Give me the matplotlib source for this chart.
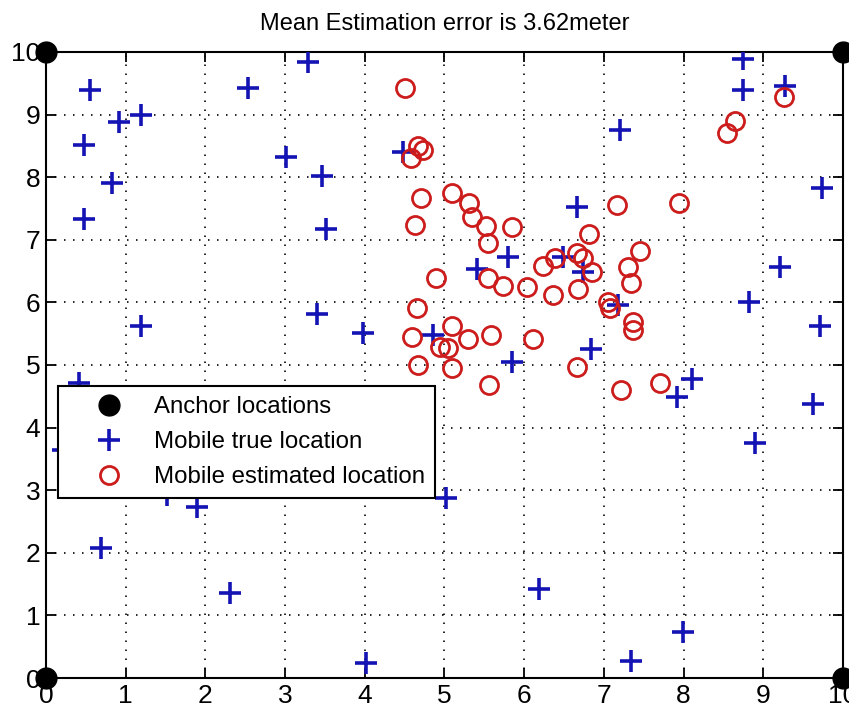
import matplotlib

matplotlib.use("Agg")
import matplotlib.pyplot as plt

plt.rcParams["font.family"] = ["Liberation Sans", "DejaVu Sans"]

# Anchor nodes at the corners
anchor_x = [0, 10, 0, 10]
anchor_y = [0, 0, 10, 10]

# Mobile true locations
true_x = [0.55, 0.48, 0.48, 0.83, 0.92, 1.19, 1.19, 2.53, 3.29, 3.01, 3.46, 3.51,
          3.40, 3.98, 4.48, 0.41, 0.21, 1.52, 1.89, 0.69, 2.31, 4.01, 5.02, 5.85,
          8.10, 7.92, 9.62, 8.90, 6.19, 7.99, 7.34, 6.84, 8.75, 8.75, 9.27, 7.20,
          9.74, 6.66, 9.21, 8.82, 9.71, 5.80, 5.41, 6.49, 6.74, 7.18, 4.86]
true_y = [9.40, 8.51, 7.33, 7.90, 8.88, 8.99, 5.62, 9.42, 9.84, 8.32, 8.02, 7.17,
          5.81, 5.51, 8.40, 4.71, 3.64, 2.92, 2.73, 2.08, 1.36, 0.24, 2.88, 5.05,
          4.78, 4.49, 4.38, 3.75, 1.42, 0.73, 0.27, 5.26, 9.89, 9.39, 9.46, 8.75,
          7.83, 7.52, 6.57, 6.01, 5.62, 6.72, 6.53, 6.72, 6.49, 5.96, 5.48]

# Mobile estimated locations
est_x = [4.50, 4.67, 4.73, 4.58, 4.70, 4.63, 5.10, 5.31, 5.35, 5.52, 5.85, 5.55,
         7.16, 7.94, 6.81, 7.45, 7.30, 7.34, 4.90, 5.55, 5.73, 6.03, 6.36, 6.68,
         6.24, 6.39, 6.66, 6.74, 6.85, 7.05, 7.08, 7.37, 7.37, 4.65, 4.59, 5.09,
         5.30, 5.59, 6.11, 4.94, 5.05, 5.10, 4.67, 5.56, 6.66, 7.22, 7.70, 8.54,
         8.64, 9.26]
est_y = [9.42, 8.50, 8.43, 8.31, 7.67, 7.24, 7.75, 7.59, 7.36, 7.22, 7.20, 6.95,
         7.56, 7.59, 7.09, 6.82, 6.57, 6.31, 6.39, 6.39, 6.26, 6.24, 6.12, 6.21,
         6.58, 6.71, 6.79, 6.71, 6.49, 6.01, 5.91, 5.69, 5.56, 5.91, 5.45, 5.62,
         5.41, 5.48, 5.41, 5.29, 5.27, 4.95, 5.00, 4.68, 4.97, 4.60, 4.71, 8.71,
         8.90, 9.28]

mean_error = 3.62

fig = plt.figure(figsize=(8.49, 7.09), dpi=100)
ax = fig.add_axes([0.054, 0.0437, 0.939, 0.883])

ax.plot(anchor_x, anchor_y, "o", color="black", markersize=15,
        label="Anchor locations", clip_on=False, zorder=5)
ax.plot(true_x, true_y, "+", color="#1414b4", markersize=16, mew=2.6,
        label="Mobile true location", zorder=3)
ax.plot(est_x, est_y, "o", mfc="none", mec="#cc1c1c", markersize=13, mew=2.0,
        label="Mobile estimated location", zorder=4)

ax.set_xlim(0, 10)
ax.set_ylim(0, 10)
ax.set_xticks(range(11))
ax.set_yticks(range(11))
ax.grid(True, color="black", linestyle=(0, (0.9, 4.5)), linewidth=1.2)
ax.tick_params(direction="in", length=7, width=1.3, labelsize=19, pad=4,
               top=True, right=True)
for s in ax.spines.values():
    s.set_linewidth(1.5)

ax.set_title(f"Mean Estimation error is {mean_error}meter", fontsize=17, pad=16)

# legend box sits over the left part of the plot, like the original
leg = ax.legend(loc="lower left", bbox_to_anchor=(0.015, 0.2875),
                borderaxespad=0, fontsize=17.3, numpoints=1, handlelength=3.5,
                handletextpad=0.1, labelspacing=0.55, fancybox=False,
                edgecolor="black", framealpha=1)
leg.get_frame().set_linewidth(1.5)
leg.set_zorder(10)

fig.savefig("out.png", dpi=100)
